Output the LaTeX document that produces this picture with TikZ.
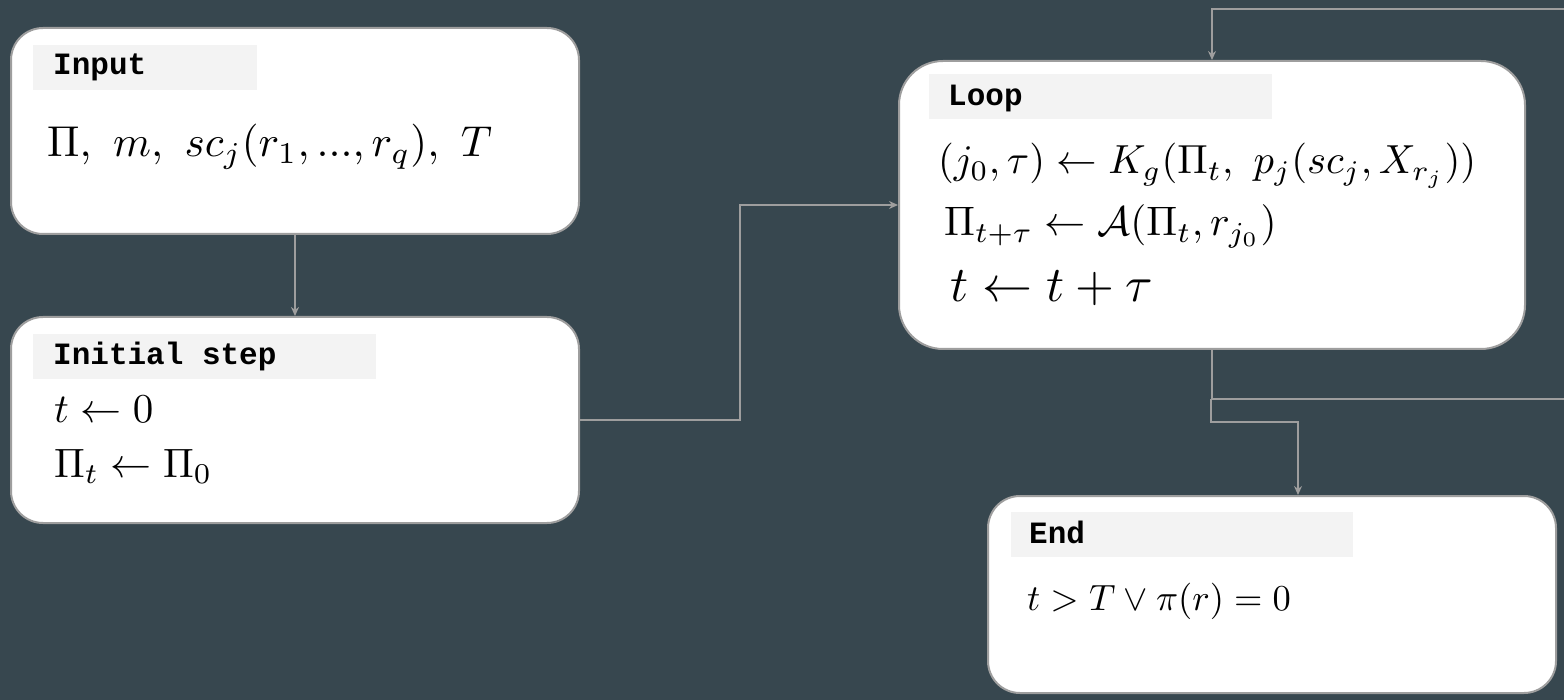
\documentclass[tikz,border=0pt]{standalone}
\usepackage{graphicx}
\usepackage{fontspec}
\newfontfamily\tagfont{Liberation Mono}
\usetikzlibrary{arrows.meta}

\definecolor{bg}{HTML}{37474F}
\definecolor{edge}{HTML}{9E9E9E}
\definecolor{tagfill}{HTML}{F3F3F3}

% formulas are set at 10pt and enlarged, keeping the 10pt design weight
\newcommand\bigmath[2]{\scalebox{#1}{$#2$}}

\tikzset{
  card/.style={draw=edge, line width=2pt, fill=white, rounded corners=#1,
    inner sep=0pt, anchor=north west},
  tag/.style={fill=tagfill, inner sep=0pt, anchor=north west},
  tagtext/.style={font=\tagfont\bfseries\fontsize{31}{36}\selectfont,
    inner sep=0pt, anchor=base west, text=black},
  formula/.style={inner sep=0pt, anchor=base west, text=black, font=\normalsize},
  link/.style={draw=edge, line width=1.6pt, -{Stealth[length=9pt,width=8pt]}},
  wire/.style={draw=edge, line width=1.6pt},
}

\begin{document}
\begin{tikzpicture}[x=1pt, y=-1pt]
  \fill[bg] (0,0) rectangle (1564,700);
  \useasboundingbox (0,0) rectangle (1564,700);

  % cards
  \node[card=32, minimum width=568pt, minimum height=206pt] (in)   at (10,27)  {};
  \node[card=32, minimum width=568pt, minimum height=206pt] (init) at (10,316) {};
  \node[card=44, minimum width=626pt, minimum height=288pt] (loop) at (898,60) {};
  \node[card=32, minimum width=568pt, minimum height=197pt] (end)  at (987,495) {};

  % header strips
  \node[tag, minimum width=224pt, minimum height=45pt] (in-tag)   at (33,45)   {};
  \node[tag, minimum width=343pt, minimum height=45pt] (init-tag) at (33,334)  {};
  \node[tag, minimum width=343pt, minimum height=45pt] (loop-tag) at (929,74)  {};
  \node[tag, minimum width=342pt, minimum height=45pt] (end-tag)  at (1011,512) {};

  \node[tagtext] (in-title)   at (53,75)    {Input};
  \node[tagtext] (init-title) at (53,365)   {Initial step};
  \node[tagtext] (loop-title) at (948,106)  {Loop};
  \node[tagtext] (end-title)  at (1029,543) {End};

  % formulas
  \node[formula] (in-f)    at (47,157)   {\bigmath{4.32}{\Pi,\ m,\ sc_j(r_1, ..., r_q),\ T}};
  \node[formula] (init-f1) at (54,423)   {\bigmath{4.1}{t \leftarrow 0}};
  \node[formula] (init-f2) at (54,477)   {\bigmath{4.1}{\Pi_t \leftarrow \Pi_0}};
  \node[formula] (loop-f1) at (938,174)  {\bigmath{4.06}{(j_0,\tau) \leftarrow K_g(\Pi_t,\ p_j(sc_j, X_{r_j}))}};
  \node[formula] (loop-f2) at (944,236)  {\bigmath{4.12}{\Pi_{t+\tau} \leftarrow \mathcal{A}(\Pi_t, r_{j_0})}};
  \node[formula] (loop-f3) at (950,302)  {\bigmath{5.0}{t \leftarrow t + \tau}};
  \node[formula] (end-f)   at (1027,610) {\bigmath{3.65}{t > T \vee \pi(r) = 0}};

  % connectors
  \coordinate (back-in)  at (1564,9);
  \coordinate (split)    at (1211,399);
  \coordinate (back-out) at (1564,399);

  \draw[link] (in.south) -- (init.north);
  \draw[link] (init.east) -- ++(160,0) |- (loop.west);
  \draw[link] (back-in) -| (loop.north);
  \draw[wire] (loop.south) |- (split) -- (back-out);
  \draw[link] (split) -- ++(0,23) -| ([xshift=311pt]end.north west);
\end{tikzpicture}
\end{document}
